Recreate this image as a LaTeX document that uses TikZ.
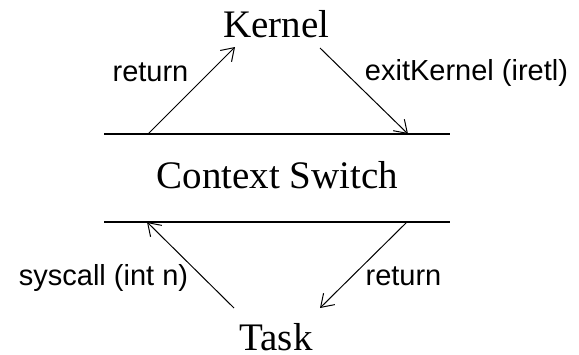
\documentclass[tikz,border=0pt]{standalone}
\usepackage{fontspec}
\setmainfont{Liberation Serif}
\setsansfont{Liberation Sans}
\usetikzlibrary{arrows.meta,positioning,calc}

\begin{document}
\begin{tikzpicture}[
    x=0.5pt, y=-0.5pt,
    state/.style={font=\fontsize{19.5}{22}\selectfont, inner sep=0pt, anchor=base},
    lbl/.style={font=\sffamily\fontsize{14.5}{17}\selectfont, inner sep=0pt, anchor=base},
    sep/.style={line width=0.6pt},
    trans/.style={line width=0.5pt, -{Straight Barb[length=6pt,width=8pt]}}
]
\useasboundingbox (0,0) rectangle (579,354);

% states
\node[state] (kernel) at (276.5,37) {Kernel};
\node[state] (ctx) at (277.5,188) {Context Switch};
\node[state] (task) at (276,350) {Task};

% separators around the switch
\coordinate (topL) at (104,134);
\coordinate (topR) at (450,134);
\coordinate (botL) at (104,222);
\coordinate (botR) at (450,222);
\draw[sep] (topL) -- (topR);
\draw[sep] (botL) -- (botR);

% arrow ends
\coordinate (retK) at (148,134);
\coordinate (kIn) at (235,47);
\coordinate (kOut) at (320,48);
\coordinate (exitK) at (408,134);
\coordinate (sysT) at (147,222);
\coordinate (tOut) at (234,308);
\coordinate (tIn) at (320,308);
\coordinate (retT) at (407,222);

% transitions
\draw[trans] (retK) -- (kIn);
\draw[trans] (kOut) -- (exitK);
\draw[trans] (tOut) -- (sysT);
\draw[trans] (retT) -- (tIn);

% labels
\node[lbl] (l1) at (150.5,81) {return};
\node[lbl] (l2) at (466.5,80) {exitKernel (iretl)};
\node[lbl] (l3) at (103.5,285) {syscall (int n)};
\node[lbl] (l4) at (403.5,285) {return};

\end{tikzpicture}
\end{document}
